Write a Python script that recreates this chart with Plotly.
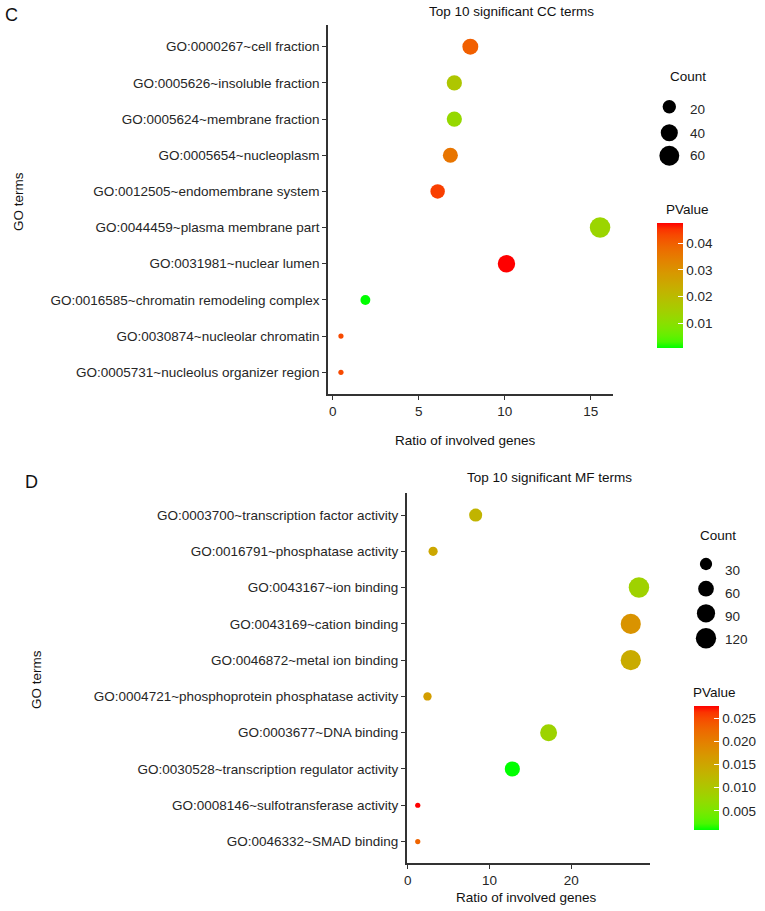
import plotly.graph_objects as go

# ---------------- DATA ----------------
cc_terms = [
    "GO:0000267~cell fraction",
    "GO:0005626~insoluble fraction",
    "GO:0005624~membrane fraction",
    "GO:0005654~nucleoplasm",
    "GO:0012505~endomembrane system",
    "GO:0044459~plasma membrane part",
    "GO:0031981~nuclear lumen",
    "GO:0016585~chromatin remodeling complex",
    "GO:0030874~nucleolar chromatin",
    "GO:0005731~nucleolus organizer region",
]
cc_ratio = [8.0, 7.07, 7.07, 6.84, 6.1, 15.54, 10.1, 1.9, 0.48, 0.48]
cc_count = [33, 29, 29, 28, 25, 65, 42, 8, 2, 2]
cc_pvalue = [0.040, 0.017, 0.012, 0.036, 0.044, 0.013, 0.0476, 0.0007, 0.043, 0.043]
cc_count_breaks = [20, 40, 60]
cc_p_ticks = [0.01, 0.02, 0.03, 0.04]

mf_terms = [
    "GO:0003700~transcription factor activity",
    "GO:0016791~phosphatase activity",
    "GO:0043167~ion binding",
    "GO:0043169~cation binding",
    "GO:0046872~metal ion binding",
    "GO:0004721~phosphoprotein phosphatase activity",
    "GO:0003677~DNA binding",
    "GO:0030528~transcription regulator activity",
    "GO:0008146~sulfotransferase activity",
    "GO:0046332~SMAD binding",
]
mf_ratio = [8.31, 3.1, 28.3, 27.3, 27.3, 2.41, 17.24, 12.8, 1.22, 1.22]
mf_count = [36, 13, 122, 117, 117, 10, 74, 55, 5, 5]
mf_pvalue = [0.013, 0.0149, 0.0084, 0.0176, 0.0144, 0.0162, 0.0082, 0.0009, 0.0278, 0.023]
mf_count_breaks = [30, 60, 90, 120]
mf_p_ticks = [0.005, 0.010, 0.015, 0.020, 0.025]

# ---------------- STYLE ----------------
W, H = 765, 911
FONT = "Liberation Sans, Arial, Helvetica, sans-serif"
FS = 13.5
TICK_COL = "#262626"
AXIS_COL = "#333333"
D_MIN, D_MAX = 5.2, 20.5   # point diameters (px) at the count limits


def px(x):
    return x / W


def py(y):
    return 1 - y / H


# ggplot-like Lab gradient green -> red
def _lin(c):
    c = c / 255
    return c / 12.92 if c <= 0.04045 else ((c + 0.055) / 1.055) ** 2.4


def _delin(c):
    v = 12.92 * c if c <= 0.0031308 else 1.055 * c ** (1 / 2.4) - 0.055
    return max(0, min(255, round(v * 255)))


def rgb2lab(rgb):
    r, g, b = (_lin(c) for c in rgb)
    X = 0.4124564 * r + 0.3575761 * g + 0.1804375 * b
    Y = 0.2126729 * r + 0.7151522 * g + 0.0721750 * b
    Z = 0.0193339 * r + 0.1191920 * g + 0.9503041 * b
    def f(t):
        return t ** (1 / 3) if t > 0.008856 else 7.787 * t + 16 / 116
    fx, fy, fz = f(X / 0.95047), f(Y), f(Z / 1.08883)
    return 116 * fy - 16, 500 * (fx - fy), 200 * (fy - fz)


def lab2rgb(lab):
    L, a, b = lab
    fy = (L + 16) / 116
    fx = fy + a / 500
    fz = fy - b / 200
    def finv(f):
        return f ** 3 if f ** 3 > 0.008856 else (f - 16 / 116) / 7.787
    X, Y, Z = finv(fx) * 0.95047, finv(fy), finv(fz) * 1.08883
    r = 3.2404542 * X - 1.5371385 * Y - 0.4985314 * Z
    g = -0.9692660 * X + 1.8760108 * Y + 0.0415560 * Z
    bb = 0.0556434 * X - 0.2040259 * Y + 1.0572252 * Z
    return tuple(_delin(max(0.0, c)) for c in (r, g, bb))


lo, hi = rgb2lab((0, 255, 0)), rgb2lab((255, 0, 0))
N = 20
colorscale = []
for i in range(N + 1):
    t = i / N
    lab = tuple(lo[k] + (hi[k] - lo[k]) * t for k in range(3))
    r, g, b = lab2rgb(lab)
    colorscale.append([t, f"rgb({r},{g},{b})"])


def size_scale(counts, lim):
    cmin, cmax = lim
    out = []
    for c in counts:
        v = max(0.0, (c - cmin) / (cmax - cmin))
        out.append(D_MIN + (D_MAX - D_MIN) * v ** 0.5)
    return out


def expand(vals, mult=0.05):
    a, b = min(vals), max(vals)
    pad = (b - a) * mult
    return [a - pad, b + pad]


fig = go.Figure()

panels = [
    dict(terms=cc_terms, ratio=cc_ratio, count=cc_count, p=cc_pvalue,
         xa="x", ya="y", cb=dict(x=656.7, top=223, len=125, thick=25.6,
                                 ticks=cc_p_ticks, fmt=".2f")),
    dict(terms=mf_terms, ratio=mf_ratio, count=mf_count, p=mf_pvalue,
         xa="x2", ya="y2", cb=dict(x=694, top=705.7, len=124.3, thick=25,
                                   ticks=mf_p_ticks, fmt=".3f")),
]

for pn in panels:
    lim = (min(pn["count"]), max(pn["count"]))
    cb = pn["cb"]
    fig.add_trace(go.Scatter(
        x=pn["ratio"], y=pn["terms"], mode="markers",
        xaxis=pn["xa"], yaxis=pn["ya"], showlegend=False,
        marker=dict(
            size=size_scale(pn["count"], lim), color=pn["p"],
            colorscale=colorscale, line=dict(width=0), opacity=1,
            colorbar=dict(
                x=px(cb["x"]), xanchor="left", xref="paper",
                y=py(cb["top"]), yanchor="top", yref="paper",
                lenmode="pixels", len=cb["len"], thickness=cb["thick"],
                xpad=0, ypad=0, outlinewidth=0,
                tickvals=cb["ticks"], tickformat=cb["fmt"],
                ticks="inside", ticklen=5, tickcolor="white", tickwidth=1,
                tickfont=dict(family=FONT, size=FS, color=TICK_COL),
            ),
        ),
        hovertemplate="%{y}<br>Ratio: %{x}<extra></extra>",
    ))
    pn["lim"] = lim

# Size legends drawn on a hidden full-page overlay axis (pixel units)
legend_layout = [
    dict(breaks=cc_count_breaks, lim=panels[0]["lim"], dot_x=669.3,
         dot_y=[106.7, 132.7, 155.7], lab_x=688, lab_y=[109.5, 133, 156],
         title_x=667.7, title_y=76.7, ptitle_x=664, ptitle_y=209),
    dict(breaks=mf_count_breaks, lim=panels[1]["lim"], dot_x=706,
         dot_y=[564, 588.7, 613.3, 638.3], lab_x=723, lab_y=[570, 593, 616, 639.5],
         title_x=697.7, title_y=535, ptitle_x=690.7, ptitle_y=692.3),
]

annotations = []


def note(text, x, y, size=FS, color="#111", angle=0, xanchor="center"):
    annotations.append(dict(x=px(x), y=py(y), xref="paper", yref="paper",
                            text=text, textangle=angle, xanchor=xanchor,
                            yanchor="middle", showarrow=False,
                            font=dict(family=FONT, size=size, color=color)))


for lg in legend_layout:
    fig.add_trace(go.Scatter(
        x=[lg["dot_x"]] * len(lg["breaks"]), y=lg["dot_y"], mode="markers",
        xaxis="x3", yaxis="y3", showlegend=False, hoverinfo="skip",
        marker=dict(size=size_scale(lg["breaks"], lg["lim"]), color="#000000",
                    opacity=1, line=dict(width=0)),
    ))
    for b, yy in zip(lg["breaks"], lg["lab_y"]):
        note(str(b), lg["lab_x"], yy, color=TICK_COL, xanchor="left")
    note("Count", lg["title_x"], lg["title_y"], xanchor="left")
    note("PValue", lg["ptitle_x"], lg["ptitle_y"], xanchor="left")

note("C", 11, 15, size=18)
note("D", 31, 482, size=18)
note("Top 10 significant CC terms", 512, 11)
note("Top 10 significant MF terms", 549, 477.3)
note("Ratio of involved genes", 466, 440.7)
note("Ratio of involved genes", 526.7, 897.7)
note("GO terms", 18, 202, angle=-90)
note("GO terms", 36, 680, angle=-90)

common_x = dict(showline=True, linecolor=AXIS_COL, linewidth=1.6, ticks="outside",
                ticklen=4, tickwidth=1.3, tickcolor=AXIS_COL, showgrid=False,
                zeroline=False, tickfont=dict(family=FONT, size=FS, color=TICK_COL))
common_y = dict(common_x, type="category")

fig.update_layout(
    width=W, height=H, margin=dict(l=0, r=0, t=0, b=0, autoexpand=False),
    paper_bgcolor="white", plot_bgcolor="rgba(0,0,0,0)",
    showlegend=False,
    xaxis=dict(common_x, domain=[px(328), px(613)], range=expand(cc_ratio),
               dtick=5, tick0=0, anchor="y"),
    yaxis=dict(common_y, domain=[py(394), py(25)], range=[-0.6, 9.6],
               categoryorder="array", categoryarray=cc_terms[::-1], anchor="x"),
    xaxis2=dict(common_x, domain=[px(406.7), px(650)], range=expand(mf_ratio),
                dtick=10, tick0=0, anchor="y2"),
    yaxis2=dict(common_y, domain=[py(863.3), py(493.3)], range=[-0.6, 9.6],
                categoryorder="array", categoryarray=mf_terms[::-1], anchor="x2"),
    xaxis3=dict(domain=[0, 1], range=[0, W], visible=False, anchor="y3",
                fixedrange=True),
    yaxis3=dict(domain=[0, 1], range=[H, 0], visible=False, anchor="x3",
                fixedrange=True),
    annotations=annotations,
)

fig.write_html("out.html",
               config={"displayModeBar": False},
               post_script="document.body.style.margin='0';"
                           "document.body.style.overflow='hidden';")
